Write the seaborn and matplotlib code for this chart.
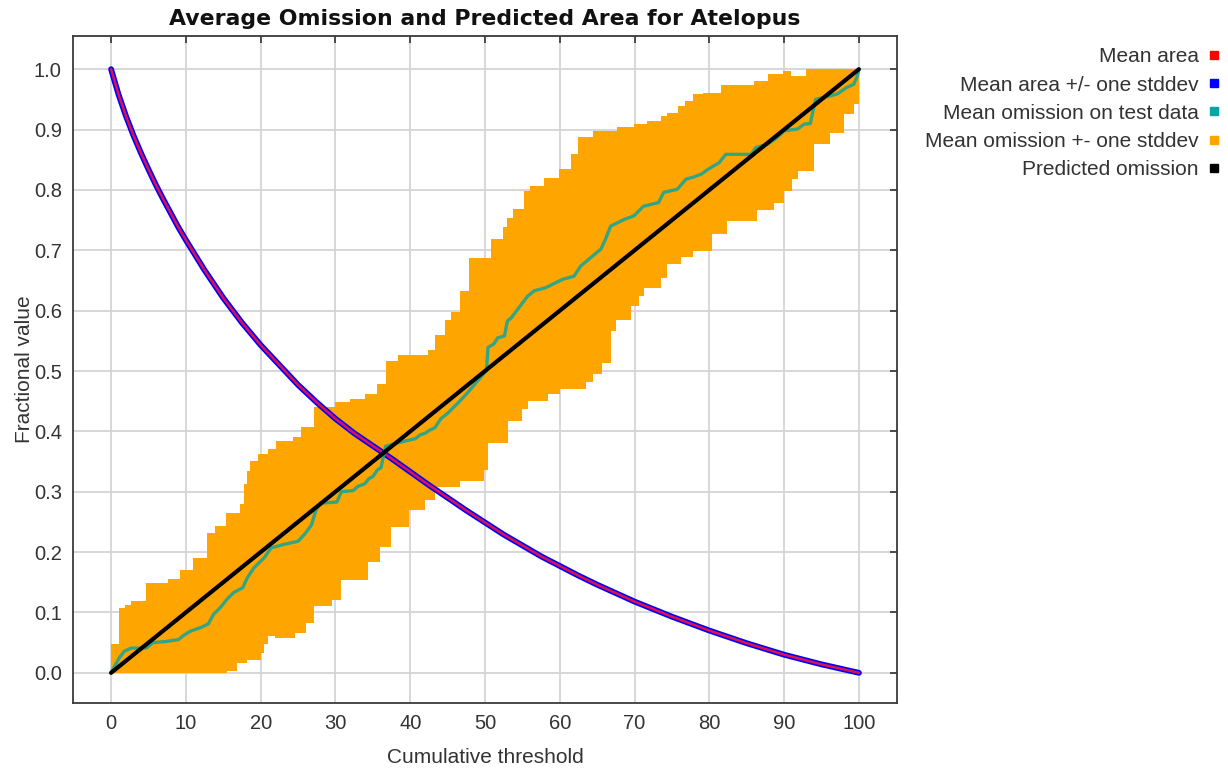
import numpy as np
import pandas as pd
import matplotlib
matplotlib.use("Agg")
import matplotlib.pyplot as plt
import seaborn as sns
from matplotlib.lines import Line2D

# mean predicted area (the +/- stddev curves sit right on top of it)
area_x = [0, 1, 2, 3, 4, 5, 6, 7, 8, 9, 10, 12.5, 15, 17.5, 20, 22.5, 25, 27.5,
          30, 32.5, 35, 37.5, 40, 42.5, 45, 47.5, 50, 52.5, 55, 57.5, 60, 62.5,
          65, 67.5, 70, 75, 80, 85, 90, 95, 100]
area_y = [1.0, 0.958, 0.922, 0.890, 0.861, 0.834, 0.808, 0.784, 0.761, 0.738,
          0.717, 0.667, 0.621, 0.580, 0.543, 0.510, 0.477, 0.448, 0.421, 0.397,
          0.376, 0.355, 0.333, 0.311, 0.290, 0.269, 0.249, 0.229, 0.211, 0.193,
          0.177, 0.161, 0.146, 0.132, 0.118, 0.093, 0.070, 0.049, 0.030, 0.014, 0.0]

# mean omission on test data
omit_x = [0, 1.1, 1.8, 2.7, 4.7, 5.6, 7.4, 9.0, 9.7, 10.6, 12.0, 13.0, 13.7, 14.6,
          15.5, 16.4, 17.6, 18.2, 19.1, 20.5, 21.4, 23.2, 25.0, 25.9, 26.8, 27.4,
          28.0, 30.2, 30.8, 32.4, 33.0, 33.9, 34.5, 35.0, 35.6, 36.1, 36.4, 36.7,
          38.0, 40.7, 41.3, 42.0, 42.6, 43.3, 44.1, 45.0, 46.3, 47.6, 48.9, 50.2,
          50.4, 51.2, 51.7, 52.6, 53.0, 53.5, 55.7, 56.6, 58.1, 58.6, 60.4, 61.9,
          62.8, 65.5, 66.1, 66.8, 68.6, 69.9, 71.2, 73.2, 73.9, 75.7, 76.9, 77.8,
          78.9, 79.8, 81.3, 82.2, 85.6, 86.2, 87.8, 89.1, 90.0, 91.8, 92.7, 93.5,
          94.0, 94.2, 96.2, 97.1, 98.4, 99.3, 99.8, 100]
omit_y = [0, 0.025, 0.036, 0.041, 0.041, 0.050, 0.052, 0.055, 0.062, 0.069, 0.075,
          0.081, 0.097, 0.108, 0.122, 0.133, 0.141, 0.157, 0.174, 0.191, 0.207,
          0.213, 0.218, 0.230, 0.245, 0.270, 0.281, 0.283, 0.300, 0.302, 0.309,
          0.313, 0.322, 0.325, 0.336, 0.340, 0.358, 0.375, 0.380, 0.388, 0.394,
          0.397, 0.402, 0.406, 0.421, 0.430, 0.446, 0.463, 0.482, 0.501, 0.539,
          0.545, 0.555, 0.558, 0.583, 0.588, 0.624, 0.633, 0.638, 0.641, 0.652,
          0.657, 0.674, 0.702, 0.718, 0.740, 0.751, 0.757, 0.773, 0.779, 0.796,
          0.801, 0.818, 0.821, 0.826, 0.834, 0.845, 0.859, 0.859, 0.870, 0.876,
          0.887, 0.898, 0.901, 0.909, 0.910, 0.939, 0.950, 0.956, 0.959, 0.970,
          0.975, 0.989, 1.0]

# omission +/- one stddev band, as step edges (x where step starts, level)
upper_x = [0.0, 1.1, 1.8, 2.7, 4.7, 7.6, 9.2, 11.0, 12.8, 13.9, 15.3, 17.3, 17.8,
           18.2, 18.6, 19.6, 21.0, 22.0, 24.3, 25.4, 27.2, 30.0, 32.0, 34.0, 35.6,
           36.7, 38.3, 42.4, 43.3, 44.6, 45.5, 46.7, 47.8, 50.8, 52.4, 53.0, 53.7,
           55.2, 56.0, 57.9, 59.9, 61.5, 62.4, 64.4, 67.7, 69.9, 71.7, 73.5, 74.4,
           75.8, 76.7, 77.8, 79.1, 81.6, 86.0, 87.8, 89.8, 90.9, 92.9]
upper_y = [0.047, 0.108, 0.112, 0.119, 0.149, 0.155, 0.171, 0.190, 0.232, 0.243,
           0.265, 0.279, 0.312, 0.334, 0.351, 0.362, 0.370, 0.384, 0.390, 0.408,
           0.441, 0.449, 0.454, 0.462, 0.479, 0.517, 0.527, 0.534, 0.559, 0.584,
           0.597, 0.633, 0.688, 0.718, 0.738, 0.754, 0.768, 0.798, 0.807, 0.820,
           0.834, 0.859, 0.887, 0.897, 0.904, 0.909, 0.914, 0.923, 0.928, 0.939,
           0.948, 0.959, 0.961, 0.974, 0.981, 0.992, 0.997, 0.989, 1.0]
lower_x = [0.0, 15.5, 16.9, 18.2, 20.0, 20.4, 21.0, 21.9, 24.6, 26.1, 27.2, 29.6,
           30.7, 34.3, 35.9, 37.4, 39.8, 42.0, 43.3, 46.7, 49.8, 50.4, 53.1, 54.9,
           55.8, 58.4, 60.0, 63.5, 64.4, 65.7, 66.8, 67.5, 69.5, 70.6, 71.2, 73.5,
           74.4, 76.2, 77.8, 80.4, 82.4, 86.4, 88.7, 90.0, 91.1, 91.8, 94.0, 96.2,
           98.0, 99.3]
lower_y = [0.0, 0.003, 0.017, 0.022, 0.033, 0.047, 0.061, 0.058, 0.066, 0.082,
           0.110, 0.121, 0.154, 0.184, 0.209, 0.242, 0.270, 0.286, 0.308, 0.317,
           0.336, 0.380, 0.418, 0.437, 0.451, 0.462, 0.470, 0.481, 0.495, 0.514,
           0.566, 0.585, 0.607, 0.624, 0.637, 0.654, 0.677, 0.689, 0.699, 0.727,
           0.749, 0.767, 0.779, 0.799, 0.818, 0.832, 0.876, 0.895, 0.925, 0.942]

pred_x = [0, 100]
pred_y = [0, 1]

x_ticks = list(range(0, 101, 10))
y_ticks = [i / 10 for i in range(11)]

legend_labels = ["Mean area", "Mean area +/- one stddev", "Mean omission on test data",
                 "Mean omission +- one stddev", "Predicted omission"]
legend_colors = ["#ff0000", "#0000ff", "#00a6a6", "#ffa500", "#000000"]


def step_edge(xs, ys, x_end):
    # turn (start, level) pairs into the corner points of a step edge
    px, py = [], []
    for i, (x, y) in enumerate(zip(xs, ys)):
        nxt = xs[i + 1] if i + 1 < len(xs) else x_end
        px += [x, nxt]
        py += [y, y]
    return px, py


sns.set_theme(style="white")
plt.rcParams['font.family'] = ['Liberation Sans', 'DejaVu Sans']

fig = plt.figure(figsize=(12.28, 7.71), dpi=100)
ax = fig.add_axes([0.0594, 0.0882, 0.6711, 0.8651])

# orange band
ux, uy = step_edge(upper_x, upper_y, 100)
lx, ly = step_edge(lower_x, lower_y, 100)
band = pd.DataFrame({"x": ux + lx[::-1], "y": uy + ly[::-1]})
ax.fill(band["x"], band["y"], color="#ffa500", linewidth=0, zorder=2)

# mean area: blue (+/- stddev) under red
sns.lineplot(x=area_x, y=area_y, ax=ax, color="#0000ff", linewidth=4.2,
             estimator=None, sort=False, zorder=3)
sns.lineplot(x=area_x, y=area_y, ax=ax, color="#e0104a", linewidth=1.8,
             estimator=None, sort=False, zorder=4)

# mean omission
sns.lineplot(x=omit_x, y=omit_y, ax=ax, color="#00a6a6", alpha=0.8, linewidth=2.4,
             estimator=None, sort=False, zorder=5)

# predicted omission
sns.lineplot(x=pred_x, y=pred_y, ax=ax, color="black", linewidth=3.0,
             estimator=None, sort=False, zorder=6)

ax.set_xlim(-5.1, 105.1)
ax.set_ylim(-0.05, 1.055)
ax.set_xticks(x_ticks)
ax.set_yticks(y_ticks)
ax.set_yticklabels([f"{v:.1f}" for v in y_ticks])
ax.grid(True, color="#d4d4d4", linewidth=1.3, zorder=0)
ax.set_axisbelow(True)
ax.tick_params(direction="in", length=5, width=1.2, color="#333333",
               top=True, right=True, labelsize=14.5, labelcolor="#333333", pad=8)
for s in ax.spines.values():
    s.set_color("#3a3a3a")
    s.set_linewidth(1.3)

ax.set_title("Average Omission and Predicted Area for Atelopus", fontsize=15.8,
             fontweight="bold", family="DejaVu Sans", color="#111111", pad=8)
ax.set_xlabel("Cumulative threshold", fontsize=15, color="#333333", labelpad=11)
ax.set_ylabel("Fractional value", fontsize=15, color="#333333", labelpad=0)

handles = [Line2D([], [], linestyle="none", marker="s", markersize=6,
                  markerfacecolor=c, markeredgecolor=c) for c in legend_colors]
fig.legend(handles, legend_labels, loc="upper right",
           bbox_to_anchor=(1231 / 1228, 1 - 37 / 771), markerfirst=False,
           frameon=False, fontsize=15, handlelength=0.6, handletextpad=0.45,
           labelspacing=0.44, borderpad=0, labelcolor="#333333")

fig.savefig("out.png", dpi=100)
